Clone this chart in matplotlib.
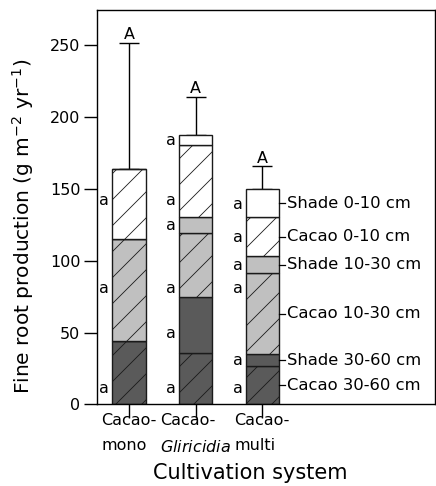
import numpy as np
import matplotlib
matplotlib.use("Agg")
import matplotlib.pyplot as plt

# render at 78 dpi so the default hatch spacing matches the original;
# S converts sizes given for 100 dpi into points at 78 dpi
DPI = 78
S = 100 / DPI

plt.rcParams['font.family'] = ['DejaVu Sans']
plt.rcParams['mathtext.fontset'] = 'dejavusans'
plt.rcParams['hatch.linewidth'] = 0.6 * S

# Data (g m-2 yr-1)
systems = ["Cacao-\nmono", "Cacao-\n$\\mathit{Gliricidia}$", "Cacao-\nmulti"]
layers = ["Cacao 30-60 cm", "Shade 30-60 cm", "Cacao 10-30 cm",
          "Shade 10-30 cm", "Cacao 0-10 cm", "Shade 0-10 cm"]
cacao_30_60 = [44, 35.5, 26.6]
shade_30_60 = [0, 39, 8.2]
cacao_10_30 = [71, 45, 56.8]
shade_10_30 = [0, 10.8, 11.4]
cacao_0_10 = [49, 50.6, 27.5]
shade_0_10 = [0, 6.5, 19.3]
err_upper = [88, 27, 16]
total_letters = ["A", "A", "A"]

# letters beside each segment (None = no segment)
seg_letters = [
    ["a", None, "a", None, "a", None],
    ["a", "a", "a", "a", "a", "a"],
    ["a", "a", "a", "a", "a", "a"],
]
letter_y = [
    [11, None, 81, None, 142, None],
    [11, 49.5, 81, 124.6, 142, 183.5],
    [11, 30.3, 81, 96.7, 116, 139.4],
]

values = [cacao_30_60, shade_30_60, cacao_10_30, shade_10_30, cacao_0_10, shade_0_10]
fills = ["#5a5a5a", "#5a5a5a", "#c0c0c0", "#c0c0c0", "white", "white"]
hatches = ["/", None, "/", None, "/", None]

fig = plt.figure(figsize=(436 / DPI, 486 / DPI), dpi=DPI)
ax = fig.add_axes([0.2225, 0.168, 0.776, 0.811])

x = np.arange(len(systems))
width = 0.5
bottom = np.zeros(len(systems))
for vals, fc, h in zip(values, fills, hatches):
    vals = np.array(vals, dtype=float)
    ax.bar(x, vals, width, bottom=bottom, color=fc, edgecolor="#1a1a1a",
           linewidth=1.0 * S, hatch=h, zorder=2)
    bottom += vals
totals = bottom.copy()

ax.errorbar(x, totals, yerr=[np.zeros(3), err_upper], fmt="none", ecolor="black",
            elinewidth=1.0 * S, capsize=7 * S, capthick=1.0 * S, zorder=1)
for xi, t, e, lab in zip(x, totals, err_upper, total_letters):
    ax.text(xi, t + e + 0.5, lab, ha="center", va="bottom", fontsize=11.5 * S)

for i in range(len(systems)):
    for lab, ly in zip(seg_letters[i], letter_y[i]):
        if lab is None:
            continue
        ax.text(x[i] - 0.37, ly, lab, ha="center", va="center", fontsize=11.5 * S)

# layer labels to the right of the last bar
mids = np.cumsum([0] + [v[2] for v in values])
xr = x[2] + width / 2
for k, name in enumerate(layers):
    ym = (mids[k] + mids[k + 1]) / 2
    ax.plot([xr, xr + 0.1], [ym, ym], color="black", lw=0.9 * S, clip_on=False, zorder=3)
    ax.text(xr + 0.13, ym, name, ha="left", va="center", fontsize=11.8 * S)

ax.set_xlim(-0.48, 4.6)
ax.set_ylim(0, 274.5)
ax.set_yticks([0, 50, 100, 150, 200, 250])
ax.set_xticks(x)
ax.set_xticklabels(systems, fontsize=11.5 * S, multialignment="left", linespacing=1.9)
ax.tick_params(axis="y", labelsize=11.5 * S, length=9 * S, width=1.0 * S,
               direction="out", pad=3 * S)
ax.tick_params(axis="x", length=10 * S, width=1.0 * S, direction="out", pad=-4 * S)
for s in ax.spines.values():
    s.set_linewidth(1.0 * S)

ax.set_ylabel("Fine root production (g m$^{-2}$ yr$^{-1}$)", fontsize=14.5 * S)
ax.yaxis.set_label_coords(-0.18, 0.452)
ax.set_xlabel("Cultivation system", fontsize=15 * S)
ax.xaxis.set_label_coords(0.453, -0.15)

fig.savefig("out.png", dpi=DPI)
